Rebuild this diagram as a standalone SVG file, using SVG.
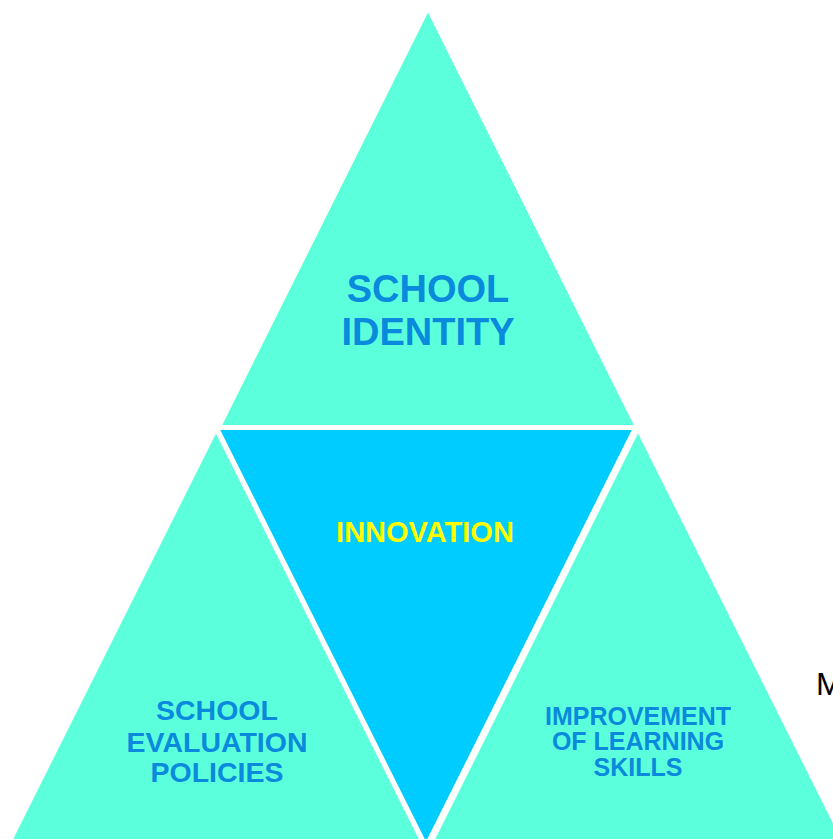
<svg xmlns="http://www.w3.org/2000/svg" width="833" height="839" viewBox="0 0 833 839">
  <style>
    .tri { fill: #5CFFDC; stroke: #FFFFFF; stroke-width: 4; stroke-linejoin: miter; }
    .mid { fill: #00CCFF; stroke: #FFFFFF; stroke-width: 4; }
    .lbl { font-family: "Liberation Sans", Arial, sans-serif; font-weight: bold; fill: #0A8ADC; text-anchor: middle; }
    .inn { font-family: "Liberation Sans", Arial, sans-serif; font-weight: bold; fill: #FFFF00; text-anchor: middle; }
  </style>
  <rect width="833" height="839" fill="#FFFFFF"/>
  <g id="node-school-identity">
    <polygon class="tri" points="428,8 637,427 219,427"/>
    <text class="lbl" font-size="38" x="428" y="302">SCHOOL</text>
    <text class="lbl" font-size="38" x="428" y="345">IDENTITY</text>
  </g>
  <g id="node-innovation">
    <polygon class="mid" points="217,428 635,428 426,846"/>
    <text class="inn" font-size="29" x="425" y="542">INNOVATION</text>
  </g>
  <g id="node-school-evaluation">
    <polygon class="tri" points="216,429 425,847 7,847"/>
    <text class="lbl" font-size="28.5" x="217" y="720">SCHOOL</text>
    <text class="lbl" font-size="28.5" x="217" y="752">EVALUATION</text>
    <text class="lbl" font-size="28.5" x="217" y="782">POLICIES</text>
  </g>
  <g id="node-improvement">
    <polygon class="tri" points="638,429 847,847 429,847"/>
    <text class="lbl" font-size="25" x="638" y="725">IMPROVEMENT</text>
    <text class="lbl" font-size="25" x="638" y="750">OF LEARNING</text>
    <text class="lbl" font-size="25" x="638" y="776">SKILLS</text>
  </g>
  <g id="connectors"></g>
  <text x="816" y="695" font-family="Liberation Sans, Arial, sans-serif" font-size="32" fill="#000000">M</text>
</svg>
